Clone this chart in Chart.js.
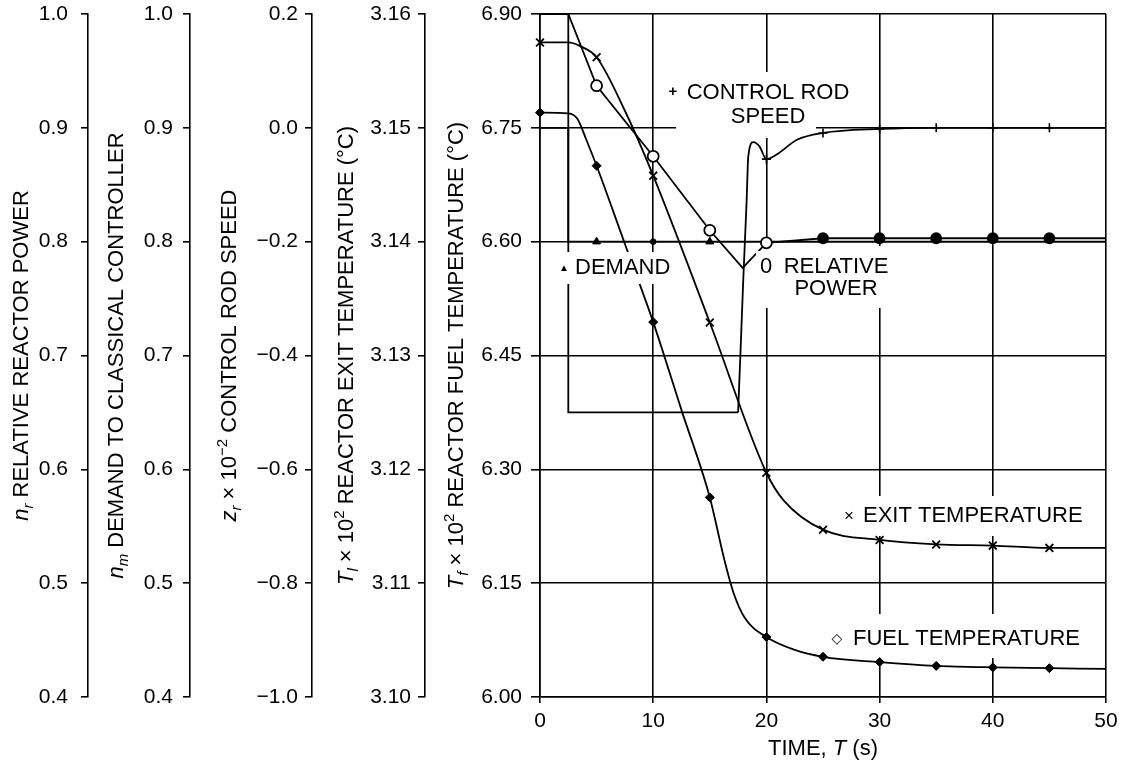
<!DOCTYPE html>
<html>
<head>
<meta charset="utf-8">
<script src="https://cdn.jsdelivr.net/npm/chart.js@4.4.1/dist/chart.umd.min.js"></script>
<style>
html,body{margin:0;padding:0;background:#fff;}
#wrap{width:1126px;height:767px;position:relative;}
</style>
</head>
<body>
<div id="wrap"><canvas id="c"></canvas></div>
<script>
// ---------------- data ----------------
const timeTicks   = [0, 10, 20, 30, 40, 50];
const powerTicks  = [0.4, 0.5, 0.6, 0.7, 0.8, 0.9, 1.0];
const demandTicks = [0.4, 0.5, 0.6, 0.7, 0.8, 0.9, 1.0];
const rodTicks    = [-1.0, -0.8, -0.6, -0.4, -0.2, 0.0, 0.2];
const exitTicks   = [3.10, 3.11, 3.12, 3.13, 3.14, 3.15, 3.16];
const fuelTicks   = [6.00, 6.15, 6.30, 6.45, 6.60, 6.75, 6.90];

// relative reactor power n_r
const powerTime = [0, 2.5, 5, 10, 15, 17.9, 20, 25, 30, 35, 40, 45, 50];
const relPower  = [1.0, 1.0, 0.937, 0.875, 0.810, 0.777, 0.799, 0.803, 0.803, 0.803, 0.803, 0.803, 0.803];
const powerOpenMarks   = [5, 10, 15, 20];
const powerFilledMarks = [25, 30, 35, 40, 45];

// demand to classical controller n_m
const demandTime = [0, 2.5, 2.5, 5, 10, 15, 20, 50];
const demand     = [1.0, 1.0, 0.8, 0.8, 0.8, 0.8, 0.8, 0.8];
const demandTriMarks = [5, 15];
const demandDotMarks = [10, 20];

// control rod speed z_r (x 10^-2)
const rodStepTime  = [0, 2.5, 2.5, 17.5];
const rodStepSpeed = [0.0, 0.0, -0.5, -0.5];
const rodStepMarks = [5, 10, 15];
const rodTime  = [17.5, 17.7, 17.95, 18.25, 18.4, 18.85, 19.4, 20, 20.9, 22.7, 25, 30, 35, 40, 45, 50];
const rodSpeed = [-0.5, -0.40, -0.27, -0.13, -0.05, -0.025, -0.033, -0.055, -0.047, -0.021, -0.009, -0.002, 0.0, 0.0, 0.0, 0.0];
const rodMarks = [20, 25, 30, 35, 40, 45];

// reactor exit temperature T_l (x 10^2 degC)
const exitTime = [0, 2.5, 3.5, 5, 7.5, 10, 15, 20, 21.5, 25, 30, 35, 40, 45, 50];
const exitTemp = [3.1575, 3.1575, 3.1572, 3.1562, 3.1515, 3.1458, 3.1329, 3.1197, 3.1173, 3.1147, 3.1138, 3.1134, 3.1133, 3.1131, 3.1131];
const exitMarks = [0, 5, 10, 15, 20, 25, 30, 35, 40, 45];

// reactor fuel temperature T_f (x 10^2 degC)
const fuelTime = [0, 2.5, 3.3, 4.1, 5, 7.5, 10, 12.5, 15, 16.3, 17.1, 18.1, 20, 22.5, 25, 30, 35, 40, 45, 50];
const fuelTemp = [6.770, 6.769, 6.762, 6.734, 6.700, 6.597, 6.494, 6.378, 6.263, 6.180, 6.137, 6.104, 6.079, 6.062, 6.053, 6.046, 6.041, 6.039, 6.038, 6.037];
const fuelMarks = [0, 5, 10, 15, 20, 25, 30, 35, 40, 45];

// ---------------- styling ----------------
const FAMILY = '"Liberation Sans", Arial, Helvetica, "DejaVu Sans", sans-serif';
const INK = '#000';

function pts(xs, ys) { return xs.map((x, i) => ({ x: x, y: ys[i] })); }
function hasMark(ctx, list) { return !!(ctx.raw && list.includes(ctx.raw.x)); }
function fmt(v, d) { return v.toFixed(d).replace('-', '\u2212'); }

function leftAxis(ticksArr, decimals, width, weight, pad, onArea, tickLen) {
  return {
    type: 'linear', position: 'left', weight: weight,
    min: ticksArr[0], max: ticksArr[ticksArr.length - 1],
    afterBuildTicks: s => { s.ticks = ticksArr.map(v => ({ value: v })); },
    afterFit: s => { s.width = width; s.paddingTop = 0; s.paddingBottom = 0; },
    ticks: { color: INK, padding: pad, font: { family: FAMILY, size: 21 },
             callback: v => fmt(v, decimals) },
    grid: { color: INK, lineWidth: 1.6, drawOnChartArea: onArea, drawTicks: true, tickLength: tickLen },
    border: { display: true, color: INK, width: 1.6 },
    title: { display: false }
  };
}

// axis titles (rich text: italic symbol, sub/superscripts)
const axisTitles = {
  yPower:  { off: 68, parts: [['n', 'i'], ['r', 'isub'], [' RELATIVE REACTOR POWER', '']] },
  yDemand: { off: 75, parts: [['n', 'i'], ['m', 'isub'], [' DEMAND TO CLASSICAL CONTROLLER', '']] },
  yRod:    { off: 84, parts: [['z', 'i'], ['r', 'isub'], [' \u00d7 10', ''], ['\u22122', 'sup'], [' CONTROL ROD SPEED', '']] },
  yExit:   { off: 80, parts: [['T', 'i'], ['l', 'isub'], [' \u00d7 10', ''], ['2', 'sup'], [' REACTOR EXIT TEMPERATURE (\u00b0C)', '']] },
  y:       { off: 85, parts: [['T', 'i'], ['f', 'isub'], [' \u00d7 10', ''], ['2', 'sup'], [' REACTOR FUEL TEMPERATURE (\u00b0C)', '']] }
};
const xTitle = { x: 823, y: 747, parts: [['TIME, ', ''], ['T', 'i'], [' (s)', '']] };
const TITLE_SIZE = 22;

// in-plot labels
const NOTE_SIZE = 22;
const notes = [
  { text: 'CONTROL ROD', x: 768, y: 93, align: 'center' },
  { text: 'SPEED', x: 768, y: 117, align: 'center' },
  { text: 'DEMAND', x: 575, y: 268, align: 'left' },
  { text: 'RELATIVE', x: 836, y: 267, align: 'center' },
  { text: 'POWER', x: 836, y: 289, align: 'center' },
  { text: 'EXIT TEMPERATURE', x: 863, y: 516, align: 'left' },
  { text: 'FUEL TEMPERATURE', x: 853, y: 639, align: 'left' }
];
const noteSymbols = [
  { text: '+', x: 673, y: 92, size: 15, weight: 'bold ' },
  { text: '\u25b2', x: 564, y: 268, size: 10, weight: '' },
  { text: '0', x: 766, y: 267, size: 22, weight: '' },
  { text: '\u00d7', x: 849, y: 516, size: 17, weight: '' },
  { text: '\u25c7', x: 837, y: 639, size: 14, weight: '' }
];
const knockouts = [[664, 80, 190, 26], [728, 106, 80, 20], [555, 252, 121, 32], [756, 251, 136, 50], [840, 503, 254, 26], [826, 626, 266, 25]];
const gridGaps  = [[676, 72, 140, 66], [756, 246, 136, 62], [840, 496, 254, 40], [826, 614, 266, 44]];

function partFont(p, size) {
  const it = p[1].includes('i') ? 'italic ' : '';
  const small = p[1].includes('sub') || p[1].includes('sup');
  return it + Math.round(small ? size * 0.66 : size) + 'px ' + FAMILY;
}
function drawRich(ctx, parts, size) {
  const widths = [];
  let total = 0;
  parts.forEach(p => { ctx.font = partFont(p, size); const w = ctx.measureText(p[0]).width; widths.push(w); total += w; });
  let x = -total / 2;
  const base = size * 0.36;
  ctx.textAlign = 'left';
  ctx.textBaseline = 'alphabetic';
  parts.forEach((p, i) => {
    ctx.font = partFont(p, size);
    let dy = base;
    if (p[1].includes('sub')) dy += size * 0.22;
    if (p[1].includes('sup')) dy -= size * 0.42;
    ctx.fillText(p[0], x, dy);
    x += widths[i];
  });
}

const decorPlugin = {
  id: 'decor',
  beforeDatasetsDraw(chart) {
    const ctx = chart.ctx;
    ctx.save();
    ctx.fillStyle = '#fff';
    gridGaps.forEach(r => ctx.fillRect(r[0], r[1], r[2], r[3]));
    ctx.restore();
  },
  afterDatasetsDraw(chart) {
    const ctx = chart.ctx;
    ctx.save();
    ctx.fillStyle = '#fff';
    knockouts.forEach(r => ctx.fillRect(r[0], r[1], r[2], r[3]));
    ctx.fillStyle = INK;
    ctx.textBaseline = 'middle';
    notes.forEach(n => {
      ctx.font = NOTE_SIZE + 'px ' + FAMILY;
      ctx.textAlign = n.align;
      ctx.fillText(n.text, n.x, n.y);
    });
    noteSymbols.forEach(s => {
      ctx.font = s.weight + s.size + 'px ' + FAMILY;
      ctx.textAlign = 'center';
      ctx.fillText(s.text, s.x, s.y);
    });
    ctx.restore();
  },
  afterDraw(chart) {
    const ctx = chart.ctx;
    ctx.save();
    ctx.fillStyle = INK;
    Object.keys(axisTitles).forEach(id => {
      const s = chart.scales[id];
      const t = axisTitles[id];
      ctx.save();
      ctx.translate(s.right - t.off, (s.top + s.bottom) / 2);
      ctx.rotate(-Math.PI / 2);
      drawRich(ctx, t.parts, TITLE_SIZE);
      ctx.restore();
    });
    ctx.save();
    ctx.translate(xTitle.x, xTitle.y);
    drawRich(ctx, xTitle.parts, TITLE_SIZE);
    ctx.restore();
    ctx.restore();
  }
};

const baseLine = { borderColor: INK, borderWidth: 1.8, fill: false, clip: false,
                   pointBorderColor: INK, pointHoverRadius: 0 };

const datasets = [
  Object.assign({}, baseLine, {
    label: 'Relative power', yAxisID: 'yPower', data: pts(powerTime, relPower), tension: 0,
    pointStyle: 'circle',
    pointRadius: c => hasMark(c, powerOpenMarks) ? 5.5 : (hasMark(c, powerFilledMarks) ? 5 : 0),
    pointBorderWidth: 1.8,
    pointBackgroundColor: c => hasMark(c, powerOpenMarks) ? '#fff' : INK
  }),
  Object.assign({}, baseLine, {
    label: 'Demand', yAxisID: 'yDemand', data: pts(demandTime, demand), tension: 0,
    pointStyle: c => hasMark(c, demandTriMarks) ? 'triangle' : 'circle',
    pointRadius: c => hasMark(c, demandTriMarks) ? 4.5 : (hasMark(c, demandDotMarks) ? 2.8 : 0),
    pointBorderWidth: 1, pointBackgroundColor: INK
  }),
  Object.assign({}, baseLine, {
    label: 'Exit temperature', yAxisID: 'yExit', data: pts(exitTime, exitTemp),
    cubicInterpolationMode: 'monotone',
    pointStyle: 'crossRot', pointRadius: c => hasMark(c, exitMarks) ? 5.5 : 0,
    pointBorderWidth: 1.8, pointBackgroundColor: INK
  }),
  Object.assign({}, baseLine, {
    label: 'Fuel temperature', yAxisID: 'y', data: pts(fuelTime, fuelTemp),
    cubicInterpolationMode: 'monotone',
    pointStyle: 'rectRot', pointRadius: c => hasMark(c, fuelMarks) ? 4.5 : 0,
    pointBorderWidth: 1, pointBackgroundColor: INK
  }),
  Object.assign({}, baseLine, {
    label: 'Control rod speed (step)', yAxisID: 'yRod', data: pts(rodStepTime, rodStepSpeed), tension: 0,
    pointStyle: 'cross', pointRadius: c => hasMark(c, rodStepMarks) ? 4.5 : 0,
    pointBorderWidth: 1.6
  }),
  Object.assign({}, baseLine, {
    label: 'Control rod speed', yAxisID: 'yRod', data: pts(rodTime, rodSpeed),
    cubicInterpolationMode: 'monotone',
    pointStyle: 'cross', pointRadius: c => hasMark(c, rodMarks) ? 4.5 : 0,
    pointBorderWidth: 1.6
  })
];

new Chart(document.getElementById('c'), {
  type: 'line',
  data: { datasets: datasets },
  plugins: [decorPlugin],
  options: {
    responsive: true, maintainAspectRatio: false, animation: false, events: [],
    layout: { padding: { left: 0, right: 20, top: 14, bottom: 0 } },
    plugins: { legend: { display: false }, tooltip: { enabled: false } },
    scales: {
      x: {
        type: 'linear', position: 'bottom', min: 0, max: 50,
        afterBuildTicks: s => { s.ticks = timeTicks.map(v => ({ value: v })); },
        afterFit: s => { s.height = 70; },
        ticks: { color: INK, padding: 6, font: { family: FAMILY, size: 21 }, callback: v => String(v) },
        grid: { color: INK, lineWidth: 1.6, drawTicks: true, tickLength: 6 },
        border: { display: true, color: INK, width: 1.6 }
      },
      y:       leftAxis(fuelTicks,   2, 115, 1, 9,  true,  9),
      yExit:   leftAxis(exitTicks,   2, 113, 2, 7,  false, 7),
      yRod:    leftAxis(rodTicks,    1, 122, 3, 7,  false, 7),
      yDemand: leftAxis(demandTicks, 1, 102, 4, 10, false, 7),
      yPower:  leftAxis(powerTicks,  1, 88,  5, 13, false, 7)
    }
  }
});
</script>
</body>
</html>
